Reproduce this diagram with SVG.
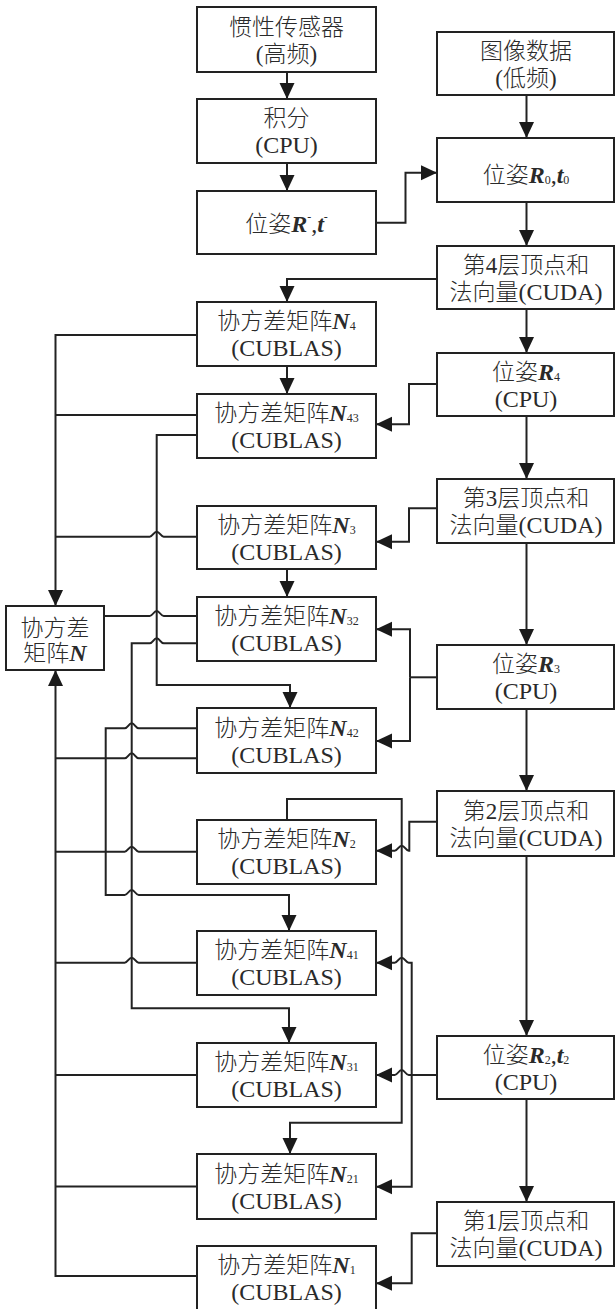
<svg xmlns="http://www.w3.org/2000/svg" width="616" height="1309" viewBox="0 0 616 1309">
<style>
.box{fill:#fff;stroke:#222;stroke-width:2}
.c{fill:none;stroke:#222;stroke-width:2}
.a{marker-end:url(#ah)}
.t{font-family:"Liberation Serif","Noto Sans CJK SC",serif;font-size:23px;font-weight:300;fill:#2a2a2a;text-anchor:middle}
.l{font-size:24px}
.b{font-weight:bold;font-style:italic;font-size:24px}
.s{font-size:12px}
</style>
<defs>
<marker id="ah" markerUnits="userSpaceOnUse" markerWidth="16" markerHeight="16" refX="16" refY="8" orient="auto"><path d="M0,0.5 L16,8 L0,15.5 z" fill="#1a1a1a"/></marker>
</defs>
<rect width="616" height="1309" fill="#fff"/>
<g id="connectors">
<path class="c a" d="M287,72 V99"/>
<path class="c a" d="M287,163 V191"/>
<path class="c a" d="M376,222.7 H405.5 V172.7 H437"/>
<path class="c a" d="M526.5,95 V138"/>
<path class="c a" d="M526.5,202 V246"/>
<path class="c a" d="M437,279 H287 V302"/>
<path class="c a" d="M526.5,309 V353"/>
<path class="c a" d="M287,366 V394"/>
<path class="c a" d="M197,335 H55.5 V606"/>
<path class="c" d="M197,415 H55.5"/>
<path class="c a" d="M437,384 H409 V424.3 H376"/>
<path class="c a" d="M526.5,416 V479"/>
<path class="c a" d="M197,435 H156.7 V685 H290 V708"/>
<path class="c a" d="M437,508.3 H409 V541.7 H376"/>
<path class="c" d="M197,536.7 H163.7 C160.7,536.7 159.7,531.7 156.7,531.7 C153.7,531.7 152.7,536.7 149.7,536.7 H55.5"/>
<path class="c a" d="M287,569 V597"/>
<path class="c a" d="M526.5,543 V645"/>
<path class="c" d="M197,616 H163.7 C160.7,616 159.7,611 156.7,611 C153.7,611 152.7,616 149.7,616 H104"/>
<path class="c a" d="M197,643.3 H163.7 C160.7,643.3 159.7,638.3 156.7,638.3 C153.7,638.3 152.7,643.3 149.7,643.3 H131.7 V1008.3 H289 V1043"/>
<path class="c" d="M437,677.3 H410"/>
<path class="c a" d="M410,677.3 V629.3 H376"/>
<path class="c a" d="M410,677.3 V741 H376"/>
<path class="c a" d="M526.5,709 V791"/>
<path class="c a" d="M197,728.3 H138.7 C135.7,728.3 134.7,723.3 131.7,723.3 C128.7,723.3 127.7,728.3 124.7,728.3 H105.7 V895 H124.7 C127.7,895 128.7,890 131.7,890 C134.7,890 135.7,895 138.7,895 H289 V931"/>
<path class="c" d="M197,758.3 H138.7 C135.7,758.3 134.7,753.3 131.7,753.3 C128.7,753.3 127.7,758.3 124.7,758.3 H55.5"/>
<path class="c a" d="M287,820 V799 H401.7 V1122.7 H290 V1154"/>
<path class="c a" d="M437,821.7 H409.3 V850.7 H408.7 C405.7,850.7 404.7,845.7 401.7,845.7 C398.7,845.7 397.7,850.7 394.7,850.7 H376"/>
<path class="c" d="M197,851.7 H138.7 C135.7,851.7 134.7,846.7 131.7,846.7 C128.7,846.7 127.7,851.7 124.7,851.7 H55.5"/>
<path class="c a" d="M526.5,856 V1036"/>
<path class="c" d="M197,962.7 H138.7 C135.7,962.7 134.7,957.7 131.7,957.7 C128.7,957.7 127.7,962.7 124.7,962.7 H55.5"/>
<path class="c a" d="M437,1075 H408.7 C405.7,1075 404.7,1070 401.7,1070 C398.7,1070 397.7,1075 394.7,1075 H376"/>
<path class="c a" d="M411.7,1075 V962.7 H408.7 C405.7,962.7 404.7,957.7 401.7,957.7 C398.7,957.7 397.7,962.7 394.7,962.7 H376"/>
<path class="c a" d="M411.7,1075 V1186.7 H376"/>
<path class="c" d="M197,1075 H55.5"/>
<path class="c a" d="M526.5,1099 V1202"/>
<path class="c" d="M197,1186.5 H55.5"/>
<path class="c a" d="M437,1233.3 H411.7 V1283.3 H376"/>
<path class="c a" d="M197,1276 H55.5 V670"/>
</g>
<g id="imu"><rect class="box" x="197" y="7" width="179" height="65"/><text class="t" x="286.5" y="34.5">惯性传感器</text><text class="t" x="286.5" y="62">(高频)</text></g>
<g id="integ"><rect class="box" x="197" y="99" width="179" height="64"/><text class="t" x="286.5" y="126">积分</text><text class="t l" x="286.5" y="153">(CPU)</text></g>
<g id="poseRt"><rect class="box" x="197" y="191" width="179" height="63"/><text class="t" x="286.5" y="231.5">位姿<tspan class="b">R</tspan><tspan class="s" dy="-11">-</tspan><tspan class="l" dy="11">,</tspan><tspan class="b">t</tspan><tspan class="s" dy="-11">-</tspan></text></g>
<g id="img"><rect class="box" x="437" y="32" width="177" height="63"/><text class="t" x="526" y="58.5">图像数据</text><text class="t" x="526" y="86">(低频)</text></g>
<g id="R0"><rect class="box" x="437" y="138" width="177" height="64"/><text class="t" x="526" y="183">位姿<tspan class="b">R</tspan><tspan class="s" dy="1">0</tspan><tspan class="l" dy="-1">,</tspan><tspan class="b">t</tspan><tspan class="s" dy="1">0</tspan></text></g>
<g id="L4"><rect class="box" x="437" y="246" width="177" height="63"/><text class="t" x="526" y="272.5">第4层顶点和</text><text class="t" x="526" y="299.5">法向量<tspan class="l">(CUDA)</tspan></text></g>
<g id="R4"><rect class="box" x="437" y="353" width="177" height="63"/><text class="t" x="526" y="379.5">位姿<tspan class="b">R</tspan><tspan class="s" dy="1">4</tspan></text><text class="t l" x="526" y="406.5">(CPU)</text></g>
<g id="L3"><rect class="box" x="437" y="479" width="177" height="64"/><text class="t" x="526" y="506">第3层顶点和</text><text class="t" x="526" y="533">法向量<tspan class="l">(CUDA)</tspan></text></g>
<g id="R3"><rect class="box" x="437" y="645" width="177" height="64"/><text class="t" x="526" y="672">位姿<tspan class="b">R</tspan><tspan class="s" dy="1">3</tspan></text><text class="t l" x="526" y="699">(CPU)</text></g>
<g id="L2"><rect class="box" x="437" y="791" width="177" height="65"/><text class="t" x="526" y="818.5">第2层顶点和</text><text class="t" x="526" y="845.5">法向量<tspan class="l">(CUDA)</tspan></text></g>
<g id="R2"><rect class="box" x="437" y="1036" width="177" height="63"/><text class="t" x="526" y="1062.5">位姿<tspan class="b">R</tspan><tspan class="s" dy="1">2</tspan><tspan class="l" dy="-1">,</tspan><tspan class="b">t</tspan><tspan class="s" dy="1">2</tspan></text><text class="t l" x="526" y="1089.5">(CPU)</text></g>
<g id="L1"><rect class="box" x="437" y="1202" width="177" height="64"/><text class="t" x="526" y="1229">第1层顶点和</text><text class="t" x="526" y="1256">法向量<tspan class="l">(CUDA)</tspan></text></g>
<g id="N4"><rect class="box" x="197" y="302" width="179" height="64"/><text class="t" x="286.5" y="329">协方差矩阵<tspan class="b">N</tspan><tspan class="s" dy="1">4</tspan></text><text class="t l" x="286.5" y="356">(CUBLAS)</text></g>
<g id="N43"><rect class="box" x="197" y="394" width="179" height="64"/><text class="t" x="286.5" y="421">协方差矩阵<tspan class="b">N</tspan><tspan class="s" dy="1">43</tspan></text><text class="t l" x="286.5" y="448">(CUBLAS)</text></g>
<g id="N3"><rect class="box" x="197" y="506" width="179" height="63"/><text class="t" x="286.5" y="532.5">协方差矩阵<tspan class="b">N</tspan><tspan class="s" dy="1">3</tspan></text><text class="t l" x="286.5" y="559.5">(CUBLAS)</text></g>
<g id="N32"><rect class="box" x="197" y="597" width="179" height="64"/><text class="t" x="286.5" y="624">协方差矩阵<tspan class="b">N</tspan><tspan class="s" dy="1">32</tspan></text><text class="t l" x="286.5" y="651">(CUBLAS)</text></g>
<g id="N42"><rect class="box" x="197" y="708" width="179" height="65"/><text class="t" x="286.5" y="735.5">协方差矩阵<tspan class="b">N</tspan><tspan class="s" dy="1">42</tspan></text><text class="t l" x="286.5" y="762.5">(CUBLAS)</text></g>
<g id="N2"><rect class="box" x="197" y="820" width="179" height="64"/><text class="t" x="286.5" y="847">协方差矩阵<tspan class="b">N</tspan><tspan class="s" dy="1">2</tspan></text><text class="t l" x="286.5" y="874">(CUBLAS)</text></g>
<g id="N41"><rect class="box" x="197" y="931" width="179" height="64"/><text class="t" x="286.5" y="958">协方差矩阵<tspan class="b">N</tspan><tspan class="s" dy="1">41</tspan></text><text class="t l" x="286.5" y="985">(CUBLAS)</text></g>
<g id="N31"><rect class="box" x="197" y="1043" width="179" height="64"/><text class="t" x="286.5" y="1070">协方差矩阵<tspan class="b">N</tspan><tspan class="s" dy="1">31</tspan></text><text class="t l" x="286.5" y="1097">(CUBLAS)</text></g>
<g id="N21"><rect class="box" x="197" y="1154" width="179" height="65"/><text class="t" x="286.5" y="1181.5">协方差矩阵<tspan class="b">N</tspan><tspan class="s" dy="1">21</tspan></text><text class="t l" x="286.5" y="1208.5">(CUBLAS)</text></g>
<g id="N1"><rect class="box" x="197" y="1246" width="179" height="66"/><text class="t" x="286.5" y="1273">协方差矩阵<tspan class="b">N</tspan><tspan class="s" dy="1">1</tspan></text><text class="t l" x="286.5" y="1300">(CUBLAS)</text></g>
<g id="N"><rect class="box" x="6" y="606" width="98" height="64"/><text class="t" x="55" y="636">协方差</text><text class="t" x="55" y="661">矩阵<tspan class="b">N</tspan></text></g>
</svg>
